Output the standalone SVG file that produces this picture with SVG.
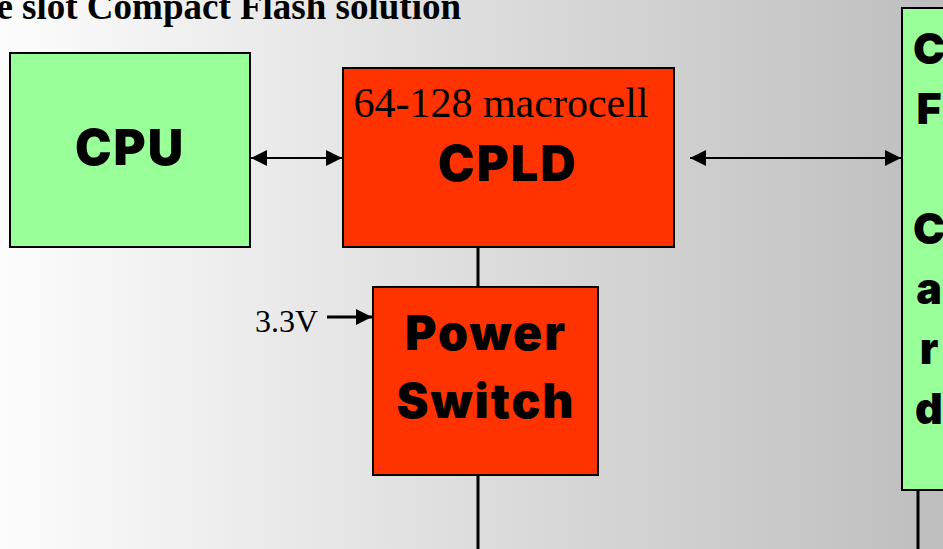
<svg xmlns="http://www.w3.org/2000/svg" width="943" height="549" viewBox="0 0 943 549">
<defs>
<linearGradient id="bg" x1="0" y1="0" x2="1" y2="0">
<stop offset="0" stop-color="#fcfcfc"/>
<stop offset="1" stop-color="#bebebe"/>
</linearGradient>
<marker id="ah2" viewBox="0 0 16 16" refX="16" refY="8" markerWidth="16" markerHeight="16" markerUnits="userSpaceOnUse" orient="auto-start-reverse">
<path d="M0,0 L16,8 L0,16 Z" fill="#000"/>
</marker>
</defs>
<style>
.green{fill:#99ff99;stroke:#000;stroke-width:2}
.red{fill:#ff3300;stroke:#000;stroke-width:2}
.heavy{font-family:Inter,"Liberation Sans",sans-serif;font-weight:900;fill:#000}
.serif{font-family:"Liberation Serif",serif;fill:#000}
.ln{stroke:#000;stroke-width:3;fill:none}
</style>
<rect width="943" height="549" fill="url(#bg)"/>
<text x="461" y="19" text-anchor="end" class="serif" font-weight="bold" font-size="37">e slot Compact Flash solution</text>
<g id="cpu">
<rect x="10" y="53" width="240" height="194" class="green"/>
<text x="130" y="165" text-anchor="middle" class="heavy" font-size="49" letter-spacing="2">CPU</text>
</g>
<g id="cpld">
<rect x="343" y="68" width="331" height="179" class="red"/>
<text x="501" y="117" text-anchor="middle" class="serif" font-size="42">64-128 macrocell</text>
<text x="508" y="181" text-anchor="middle" class="heavy" font-size="49" letter-spacing="2">CPLD</text>
</g>
<g id="power-switch">
<rect x="373" y="287" width="225" height="188" class="red"/>
<text x="486" y="350" text-anchor="middle" class="heavy" font-size="48" letter-spacing="2">Power</text>
<text x="486" y="418" text-anchor="middle" class="heavy" font-size="48" letter-spacing="2">Switch</text>
</g>
<g id="cf-card">
<rect x="902" y="8" width="60" height="482" class="green"/>
<g class="heavy" font-size="43" text-anchor="middle">
<text x="929" y="64">C</text>
<text x="929" y="124">F</text>
<text x="929" y="244">C</text>
<text x="929" y="304">a</text>
<text x="929" y="364">r</text>
<text x="929" y="424">d</text>
</g>
</g>
<text x="255" y="332" class="serif" font-size="32">3.3V</text>
<g id="connectors">
<line x1="251" y1="158" x2="342" y2="158" stroke="#000" stroke-width="2" marker-start="url(#ah2)" marker-end="url(#ah2)"/>
<line x1="690" y1="158" x2="901" y2="158" stroke="#000" stroke-width="2" marker-start="url(#ah2)" marker-end="url(#ah2)"/>
<line x1="478" y1="247" x2="478" y2="287" class="ln"/>
<line x1="478" y1="475" x2="478" y2="549" class="ln"/>
<line x1="918" y1="490" x2="918" y2="549" class="ln"/>
<line x1="327" y1="317" x2="372" y2="317" stroke="#000" stroke-width="3" marker-end="url(#ah2)"/>
</g>
</svg>
